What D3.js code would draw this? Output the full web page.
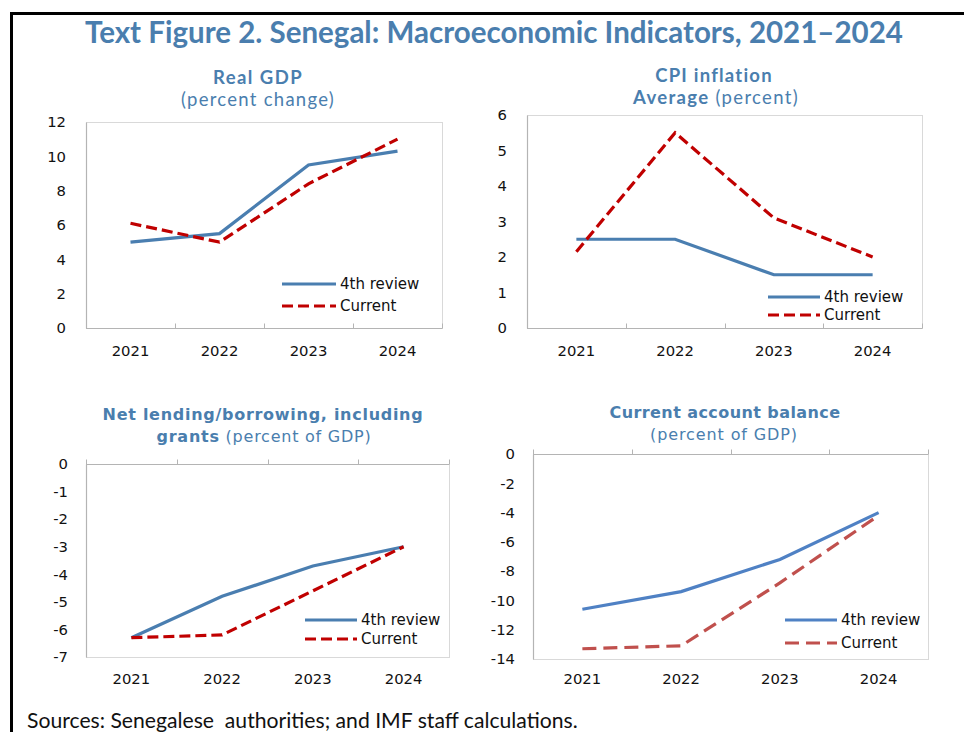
<!DOCTYPE html>
<html><head><meta charset="utf-8">
<script src="https://cdn.jsdelivr.net/npm/d3@7"></script>
<style>body{margin:0;background:#fff} svg{display:block}</style>
</head><body><svg id="c" width="964" height="732"></svg>
<script>
// ---------- data ----------
const years = ["2021", "2022", "2023", "2024"];
const seriesNames = ["4th review", "Current"];

const gdpReview  = [5.0, 5.5, 9.5, 10.3];
const gdpCurrent = [6.1, 5.0, 8.4, 11.0];
const gdpTicks   = [0, 2, 4, 6, 8, 10, 12];

const cpiReview  = [2.5, 2.5, 1.5, 1.5];
const cpiCurrent = [2.15, 5.5, 3.1, 2.0];
const cpiTicks   = [0, 1, 2, 3, 4, 5, 6];

const nlbReview  = [-6.3, -4.8, -3.7, -3.0];
const nlbCurrent = [-6.3, -6.2, -4.6, -3.0];
const nlbTicks   = [0, -1, -2, -3, -4, -5, -6, -7];

const cabReview  = [-10.6, -9.4, -7.2, -4.0];
const cabCurrent = [-13.3, -13.1, -8.8, -4.2];
const cabTicks   = [0, -2, -4, -6, -8, -10, -12, -14];

const mainTitle = "Text Figure 2. Senegal: Macroeconomic Indicators, 2021\u20132024";
const sourceNote = "Sources: Senegalese\u00a0 authorities; and IMF staff calculations.";

// ---------- drawing ----------
const svg = d3.select("#c");
const titleBlue = "#4a7eae";
const axisFont = "'DejaVu Sans', Verdana, sans-serif";
const calFont = "Lato, 'Open Sans', sans-serif";

function fit(sel, w) {
  const n = sel.node();
  const cur = parseFloat(sel.attr("font-size"));
  const len = n.getComputedTextLength();
  if (len > 0) sel.attr("font-size", (cur * w / len).toFixed(2));
  return sel;
}
function fitSpacing(sel, w) {
  const n = sel.node();
  const len = n.getComputedTextLength();
  const chars = n.textContent.length;
  if (len > 0 && chars > 1) sel.attr("letter-spacing", ((w - len) / chars).toFixed(2));
  return sel;
}

// frame
svg.append("path").attr("d", "M11.5,732V13.5H964")
  .attr("fill", "none").attr("stroke", "#000").attr("stroke-width", 3);

// main title
fit(svg.append("text").attr("x", 494).attr("y", 43).attr("text-anchor", "middle")
  .attr("font-family", calFont).attr("font-weight", "bold").attr("font-size", 26)
  .attr("fill", titleBlue).text(mainTitle), 818);

// sources
fit(svg.append("text").attr("x", 27).attr("y", 728)
  .attr("font-family", calFont).attr("font-size", 18).attr("fill", "#111")
  .attr("xml:space", "preserve").text(sourceNote), 551);

function panelTitle(lines) {
  lines.forEach(l => {
    const t = svg.append("text").attr("x", l.cx).attr("y", l.y).attr("text-anchor", "middle")
      .attr("font-family", l.font).attr("font-size", l.size).attr("fill", titleBlue);
    l.parts.forEach(p => t.append("tspan").attr("font-weight", p.b ? "bold" : "normal").text(p.t));
    if (l.w) fitSpacing(t, l.w);
  });
}

function panel(o) {
  const g = svg.append("g");
  const x = d3.scaleBand().domain(years).range([o.x0, o.x1]);
  const y = d3.scaleLinear().domain(o.domain).range([o.y1, o.y0]);
  const cx = d => x(d) + x.bandwidth() / 2;

  // plot area border
  g.append("rect").attr("x", o.x0 + 0.5).attr("y", o.y0 + 0.5)
    .attr("width", o.x1 - o.x0).attr("height", o.y1 - o.y0)
    .attr("fill", "none").attr("stroke", "#d9d9d9").attr("stroke-width", 1);

  // value axis
  const ya = g.append("g").attr("transform", `translate(${o.x0},0)`)
    .call(d3.axisLeft(y).tickValues(o.ticks).tickSize(0).tickPadding(o.pad)
      .tickFormat(d => String(d)));
  ya.select(".domain").attr("stroke", "#b4b4b4").attr("stroke-width", 1.2);
  ya.selectAll("text").attr("font-family", axisFont).attr("font-size", 14.8).attr("fill", "#111");

  // category axis (crossing at 0)
  const yz = Math.round(y(0)) + 0.5;
  const edges = years.map(d => x(d)).concat([o.x1]);
  g.append("line").attr("x1", o.x0).attr("x2", o.x1).attr("y1", yz).attr("y2", yz)
    .attr("stroke", "#b4b4b4").attr("stroke-width", 1.2);
  g.selectAll(".tk").data(edges).join("line")
    .attr("x1", d => Math.round(d) + 0.5).attr("x2", d => Math.round(d) + 0.5)
    .attr("y1", yz).attr("y2", yz - 5)
    .attr("stroke", "#b4b4b4").attr("stroke-width", 1);
  g.selectAll(".cl").data(years).join("text")
    .attr("x", d => cx(d)).attr("y", o.catY).attr("text-anchor", "middle")
    .attr("font-family", axisFont).attr("font-size", 14.8).attr("fill", "#111").text(d => d);

  const line = d3.line().x((d, i) => cx(years[i])).y(d => y(d));
  g.append("path").datum(o.review).attr("d", line).attr("fill", "none")
    .attr("stroke", o.blue).attr("stroke-width", 3.2);
  g.append("path").datum(o.current).attr("d", line).attr("fill", "none")
    .attr("stroke", o.red).attr("stroke-width", 3.2).attr("stroke-dasharray", o.dash);

  // legend
  const L = o.legend;
  [[o.blue, null], [o.red, o.dash]].forEach((s, i) => {
    const ly = i === 0 ? L.y1 : L.y2;
    g.append("line").attr("x1", L.x).attr("x2", L.x + L.len).attr("y1", ly).attr("y2", ly)
      .attr("stroke", s[0]).attr("stroke-width", 3.2).attr("stroke-dasharray", s[1]);
    g.append("text").attr("x", L.x + L.len + 4).attr("y", ly + 5)
      .attr("font-family", axisFont).attr("font-size", 15).attr("fill", "#111")
      .text(seriesNames[i]);
  });
}

// Panel 1: Real GDP
panelTitle([
  {cx: 258, y: 84, font: calFont, size: 18.5, parts: [{t: "Real GDP", b: true}], w: 90},
  {cx: 258, y: 106, font: calFont, size: 18.5, parts: [{t: "(percent change)"}], w: 154}
]);
panel({x0: 86, x1: 442, y0: 122, y1: 328, domain: [0, 12], ticks: gdpTicks, pad: 20,
  review: gdpReview, current: gdpCurrent, blue: "#4a7eb0", red: "#c00000", dash: "11,5",
  catY: 356, legend: {x: 282, len: 54, y1: 284, y2: 306}});

// Panel 2: CPI inflation
panelTitle([
  {cx: 714, y: 82, font: calFont, size: 18.5, parts: [{t: "CPI inflation", b: true}], w: 118},
  {cx: 716, y: 104, font: calFont, size: 18.5, parts: [{t: "Average", b: true}, {t: " (percent)"}], w: 166}
]);
panel({x0: 527, x1: 922, y0: 115, y1: 328, domain: [0, 6], ticks: cpiTicks, pad: 20,
  review: cpiReview, current: cpiCurrent, blue: "#4a7eb0", red: "#c00000", dash: "11,5",
  catY: 356, legend: {x: 768, len: 52, y1: 297, y2: 315}});

// Panel 3: Net lending/borrowing
panelTitle([
  {cx: 263, y: 420, font: axisFont, size: 16, parts: [{t: "Net lending/borrowing, including", b: true}], w: 321},
  {cx: 264, y: 442, font: axisFont, size: 16, parts: [{t: "grants", b: true}, {t: " (percent of GDP)"}], w: 215}
]);
panel({x0: 86, x1: 449, y0: 464, y1: 657, domain: [-7, 0], ticks: nlbTicks, pad: 18,
  review: nlbReview, current: nlbCurrent, blue: "#4a7eb0", red: "#c00000", dash: "11,5",
  catY: 684, legend: {x: 305, len: 52, y1: 620, y2: 639}});

// Panel 4: Current account balance
panelTitle([
  {cx: 725, y: 418, font: axisFont, size: 16, parts: [{t: "Current account balance", b: true}], w: 231},
  {cx: 724, y: 440, font: axisFont, size: 16, parts: [{t: "(percent of GDP)"}], w: 148}
]);
panel({x0: 533, x1: 928, y0: 454, y1: 659, domain: [-14, 0], ticks: cabTicks, pad: 18,
  review: cabReview, current: cabCurrent, blue: "#4f81c4", red: "#c0504d", dash: "14,7",
  catY: 684, legend: {x: 785, len: 52, y1: 620, y2: 643}});
</script>
</body></html>
